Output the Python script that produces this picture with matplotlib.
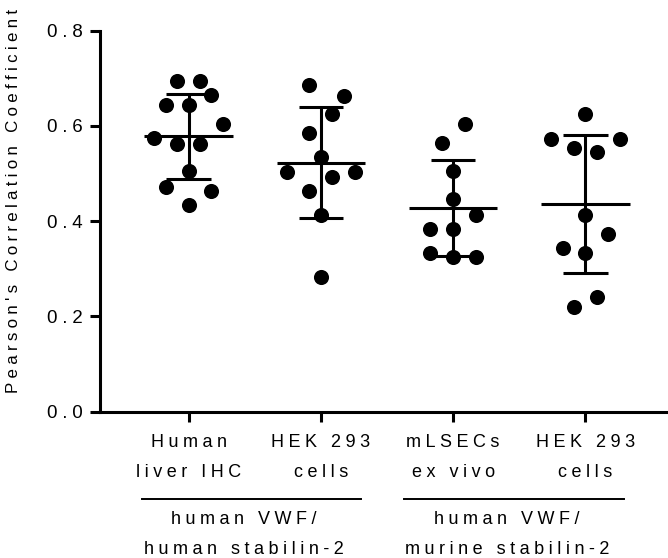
import numpy as np
import matplotlib
matplotlib.use("Agg")
import matplotlib.pyplot as plt
import matplotlib.transforms as mtransforms

plt.rcParams['font.family'] = ['Liberation Sans', 'DejaVu Sans']

# values (Pearson's r per image)
liver_ihc = [0.693, 0.695, 0.665, 0.644, 0.644, 0.604, 0.574, 0.562, 0.562, 0.505, 0.472, 0.464, 0.433]
hek_human = [0.686, 0.663, 0.624, 0.584, 0.534, 0.503, 0.492, 0.503, 0.463, 0.412, 0.282]
mlsec = [0.604, 0.564, 0.505, 0.446, 0.413, 0.383, 0.383, 0.332, 0.324, 0.324]
hek_murine = [0.625, 0.573, 0.573, 0.553, 0.545, 0.413, 0.373, 0.343, 0.332, 0.241, 0.220]

# column slot of each dot (scatter-column layout)
slots = [
    [-1, 1, 2, -2, 0, 3, -3, -1, 1, 0, -2, 2, 0],
    [-1, 2, 1, -1, 0, -3, 1, 3, -1, 0, 0],
    [1, -1, 0, 0, 2, -2, 0, -2, 0, 2],
    [0, -3, 3, -1, 1, 0, 2, -2, 0, 1, -1],
]

tick_labels = ["Human\nliver IHC", "HEK 293\ncells", "mLSECs\nex vivo", "HEK 293\ncells"]
group_labels = ["human VWF/\nhuman stabilin-2", "human VWF/\nmurine stabilin-2"]
yticks = [0.0, 0.2, 0.4, 0.6, 0.8]
ylabel = "Pearson's Correlation Coefficient"


def spaced(s, gap="\u2005"):
    # GraphPad-like wide letter spacing
    return "\n".join(gap.join(line) for line in s.split("\n"))


groups = [liver_ihc, hek_human, mlsec, hek_murine]
positions = [1, 2, 3, 4]
slot_w = 0.086
lw = 2.2

fig = plt.figure(figsize=(6.68, 5.58), dpi=100)
ax = fig.add_axes([0.1497, 0.2625, 0.847, 0.6828])

for pos, vals, sl in zip(positions, groups, slots):
    vals = np.array(vals)
    xs = pos + np.array(sl) * slot_w
    ax.scatter(xs, vals, s=118, color='black', zorder=3, linewidths=0)
    m = vals.mean()
    sd = vals.std(ddof=1)
    ax.plot([pos - 0.335, pos + 0.335], [m, m], color='black', lw=lw, solid_capstyle='butt', zorder=4)
    ax.plot([pos, pos], [m - sd, m + sd], color='black', lw=lw, solid_capstyle='butt', zorder=4)
    for yv in (m - sd, m + sd):
        ax.plot([pos - 0.167, pos + 0.167], [yv, yv], color='black', lw=lw, solid_capstyle='butt', zorder=4)

ax.set_xlim(0.331, 4.607)
ax.set_ylim(0, 0.8)
ax.set_yticks(yticks)
ax.set_yticklabels([spaced(f"{v:.1f}") for v in yticks], fontsize=13.5)
ax.set_xticks(positions)
ax.set_xticklabels([spaced(t) for t in tick_labels], fontsize=13, linespacing=2.0)

for side in ('top', 'right'):
    ax.spines[side].set_visible(False)
for side in ('left', 'bottom'):
    ax.spines[side].set_linewidth(lw)
ax.tick_params(axis='both', width=lw, length=7.5, color='black')
ax.tick_params(axis='y', pad=5)
ax.tick_params(axis='x', pad=9)

ax.text(-0.1537, 0.5525, spaced(ylabel), transform=ax.transAxes, rotation=90,
        ha='center', va='center', fontsize=12.2)

# group brackets under the tick labels
trans = mtransforms.blended_transform_factory(ax.transData, ax.transAxes)
for x0, x1 in [(0.648, 2.30), (2.627, 4.289)]:
    ax.plot([x0, x1], [-0.2297, -0.2297], color='black', lw=1.4, transform=trans, clip_on=False)
for xc, lab in zip([1.418, 3.405], group_labels):
    ax.text(xc, -0.262, spaced(lab), transform=trans, ha='center', va='top',
            fontsize=13, linespacing=1.95)

fig.savefig("out.png", dpi=100)
